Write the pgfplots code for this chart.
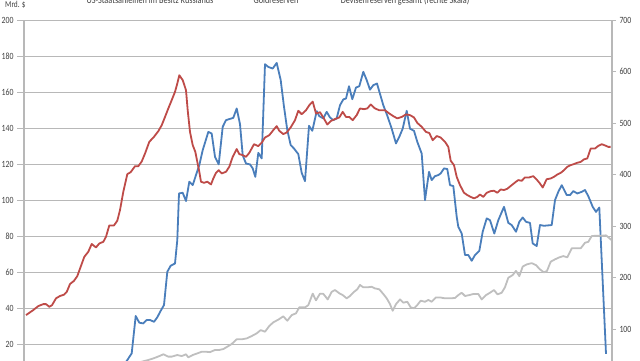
\documentclass[border=0pt]{standalone}
\usepackage{fontspec}
\setmainfont{Carlito}
\newfontfamily\chartfont[FakeStretch=0.82]{Carlito}
\usepackage{pgfplots}
\pgfplotsset{compat=1.18}
\definecolor{cblue}{HTML}{4A7EBB}
\definecolor{cred}{HTML}{BE4B48}
\definecolor{cgray}{HTML}{BFBFBF}
\definecolor{cgrid}{HTML}{B8B8B8}
\definecolor{ctext}{HTML}{404040}
\begin{document}
\begin{tikzpicture}[x=1pt,y=1pt]
\begin{scope}
\clip (0,0) rectangle (640,360);
\begin{axis}[at={(24pt,-21pt)}, anchor=south west, scale only axis,
  width=588pt, height=361pt,
  xmin=24, xmax=612, ymin=0, ymax=200,
  axis x line=none, axis y line*=left,
  ytick={20,40,...,200}, ymajorgrids,
  grid style={cgrid, line width=0.9pt},
  axis line style={cgrid, line width=1.2pt},
  tick style={cgrid, line width=0.9pt},
  tick align=outside, major tick length=7pt,
  yticklabel style={font=\chartfont\fontsize{9.5}{11}\selectfont, text=ctext},
  /pgf/number format/assume math mode=true]
% US-Staatsanleihen
\addplot[cblue, line width=1.8pt, line join=round, mark=none] coordinates {
(26,4)(60,5)(100,7)(124,9)(127.3,11.6)(131.7,15.3)(135.7,36)(139.3,32.3)(143.3,31.9)(146.7,33.8)(150,33.8)(154,32.8)(157.3,35.3)(160.7,38.9)(164,42.1)(167.3,60.5)(170.7,63.9)(175,65.1)(177.3,78.1)(179,103.9)(182.7,104.3)(186,99.7)(189.3,110.4)(192.7,108.5)(196,114.1)(199.3,119.6)(202.7,127.9)(206,133.8)(208.3,138)(211.7,137.1)(215,124.2)(218.7,120)(222.7,140.8)(226,144.5)(229.3,145.1)(233.3,145.8)(236.7,151)(240,142.3)(242.7,125.1)(246,120.5)(250,120)(252.7,117.8)(255.3,113.1)(258.3,126.4)(261.7,123.3)(265,175.5)(268.3,174)(272.7,173.1)(276.7,176.2)(280.7,166.7)(284,151.9)(287.3,139)(290.7,130.7)(294,128.8)(298.3,125.7)(301.7,115.3)(305,110.7)(309,141.4)(312.3,138.6)(316.7,149.5)(319.3,146.7)(323.3,145.5)(326.7,149.1)(330,146)(333.3,144.5)(336.7,145.5)(340,152.8)(343.3,156)(346,156.5)(349,163.3)(352.3,156.1)(356,162.6)(359.3,163.3)(363.3,171.3)(366.7,166.7)(370,161.4)(373.3,163.9)(377,164.8)(379.5,160)(383.3,152.8)(387.3,147)(391.7,139.8)(396,131.6)(399.3,135.3)(402.7,139.8)(406.7,149.7)(410,139.8)(414,138.6)(417.3,132.5)(421.7,126)(425,100.2)(429,115.9)(431.7,111.3)(435,113.5)(438.3,114.1)(440.7,115)(444,117.8)(447.3,117.4)(450,108.5)(453.3,108)(456.7,91)(458.3,85.4)(461.7,81.7)(465,69.8)(468.3,69.8)(471.7,66.6)(475,69.8)(479.3,72.1)(482.7,82.7)(486.7,90.1)(490,89.1)(494.3,81.7)(498.3,89.1)(504,96.5)(508.3,87.6)(511.7,86.4)(516,82.7)(519.3,88.2)(522.7,90.6)(526,88.2)(530,87.6)(532.7,76.2)(536.7,74.8)(540,86.4)(544,86)(551.7,86.4)(555,100.2)(558.3,104.8)(561.7,108.5)(566.7,103)(570,103)(573.3,105.2)(577.3,103.9)(581.7,104.8)(585,105.8)(588.3,102.4)(592.7,96.5)(596,93.7)(599.3,96.1)(606,15)
};
% Goldreserven
\addplot[cgray, line width=1.8pt, line join=round, mark=none] coordinates {
(26,4)(60,5)(100,7)(130,9)(148,11.6)(153.3,12.5)(159.3,13.8)(163.3,14.8)(168.3,13.5)(171.7,13.5)(177.3,14.4)(181.7,13.8)(186,14.8)(188.3,13.1)(192.7,14.4)(197.3,15.3)(201.7,16.2)(206,16.2)(210,16)(215,17.2)(219.3,17.2)(223.3,17.7)(227.3,19)(231.7,20.5)(236.7,23.1)(241.7,23.1)(246.7,23.6)(251.7,24.9)(256.7,26.4)(260.7,28.2)(265,27.3)(269.3,30.5)(273.3,32.5)(278.3,34)(283.3,35.8)(287.3,33.4)(291.7,36.5)(296,37.5)(299.3,40.8)(305,40.8)(308.3,42)(312.7,48.4)(316,44.7)(320,48.4)(323.3,48.3)(327.7,45.2)(331.7,49.4)(335,50.4)(339.3,48.6)(342.7,47.6)(346.7,45.8)(350,47.1)(354,49.4)(357.3,50.8)(360,53.2)(363.3,51.9)(367.3,51.9)(371.7,52.2)(375,51.3)(379.3,50.8)(383.3,48.2)(386.7,45.8)(390,42.6)(392.7,38.9)(396,42.6)(400,45.2)(403.3,43.4)(407.3,43.9)(410.7,40.8)(414,40.3)(417.3,42.1)(420.7,44.5)(425,43.9)(428.3,44.9)(431.7,43.9)(436,46.3)(440,46.3)(445,45.8)(450,45.8)(455,46)(458.3,47.6)(461.7,48.9)(465,47.1)(469.3,47.6)(473.3,48.2)(478.3,48.2)(481.7,45.2)(486,47.6)(490,48.9)(494,50.4)(497.5,48)(501.7,48.9)(505,52)(508.3,57.2)(512.7,58.7)(516,61)(519.3,58.1)(522.7,63.4)(526.7,64.6)(531.7,65.3)(536,64.2)(540,61.8)(544,60.2)(547,61)(550.7,66.1)(555,67.4)(559.3,68.5)(563.3,69.2)(567.3,68.5)(571.7,73.5)(576.7,73.5)(580.7,73.5)(585,76.6)(588.3,77.1)(591.7,80.3)(596.7,80.5)(601.7,80.5)(606,80.7)(608.3,79.6)(611.5,78.1)
};
\end{axis}
\begin{axis}[at={(24pt,-21pt)}, anchor=south west, scale only axis,
  width=588pt, height=361pt,
  xmin=24, xmax=612, ymin=0, ymax=700,
  axis x line=none, axis y line*=right,
  ytick={100,200,...,700},
  axis line style={cgrid, line width=1.2pt},
  tick style={cgrid, line width=0.9pt},
  tick align=outside, major tick length=4pt,
  yticklabel style={font=\chartfont\fontsize{9.5}{11}\selectfont, text=ctext},
  /pgf/number format/assume math mode=true]
% Devisenreserven gesamt (rechte Skala)
\addplot[cred, line width=1.8pt, line join=round, mark=none] coordinates {
(26,127.8)(33.3,137.6)(38.3,145.3)(43.3,149.1)(46,149.1)(49.3,143.9)(52,147)(56,160.3)(60,164.9)(64,167.3)(66.7,172.6)(70,188)(74,194.3)(77.3,203.4)(80.7,221.6)(84.3,240.8)(88.3,250.6)(91.7,265.7)(96,259)(99.3,266.7)(103.3,269.9)(106,279.7)(109.3,301.7)(114,301.7)(117.3,310.8)(120,331.5)(123.3,366.8)(127.3,401.1)(130.7,405)(135,416.5)(138.3,416.5)(141.7,425.6)(145,441)(149.3,463.8)(154,473.6)(158.3,484.4)(161.7,496)(165,512)(168.3,528.5)(171.7,544.6)(175,560.7)(177.3,576.8)(179.3,592.9)(182.7,583.5)(186,563.9)(187.7,525)(190,483)(192.7,457.5)(195.3,444.5)(197.3,424.9)(199.3,405.7)(201,386.4)(204,384.3)(207.3,386.4)(211,381.2)(213.3,392.7)(216,403.6)(218.7,408.8)(221.7,402.5)(226,405.7)(229.3,415.5)(232.7,434.7)(236.7,449.8)(239.3,440)(242.7,437.9)(246,434.7)(249.3,442.4)(254,459.2)(258.3,455.4)(261.7,462)(265,472.2)(269.3,476.7)(273.3,486.5)(276.7,494.2)(279.3,485.1)(283.3,478.8)(286.7,482)(290.7,491.8)(295,505.8)(298.3,524)(301.7,517.3)(306,525)(309.3,534.8)(312.7,541.8)(316,518.7)(320,521.2)(323.3,511)(327.3,497.4)(330.7,504)(335,507.9)(339.3,511)(342.7,521.9)(346,512)(349.3,512)(352.7,505.8)(356.7,515.6)(360,528.5)(364,527.1)(367.3,528.5)(370.7,536.2)(375,528.5)(379.3,525)(385,525)(389.3,518.7)(393.3,513.5)(397.3,509.3)(401.7,512)(406,517)(410,515.6)(414,511)(417.3,500.5)(421.7,492.8)(426,483)(429.3,480.9)(432.7,466.9)(436.7,475)(440.7,472.2)(445,463.8)(448.3,454)(450.7,427)(454,418.6)(456.7,395.9)(460,379.8)(464,365)(467.3,360.5)(470.7,357)(474,354.2)(477.3,357)(480,361.6)(483.3,357)(486.7,365)(490.7,368.2)(494,368.9)(497.3,365)(500.7,371.4)(504,370.3)(507.3,372.8)(511.7,379.8)(516,386.4)(518.3,389.6)(521.7,388.2)(525,394.8)(529.3,394.8)(533.3,397.3)(536.7,390.6)(540,382.9)(542.7,375.2)(546.7,391.3)(550.7,392.7)(554,395.9)(557.3,400.4)(560.7,403.6)(564,408.8)(567.3,415.5)(570.7,418.6)(574,420.7)(577.3,423.2)(580.7,424.9)(584,429.8)(587.3,431.6)(590.7,450.8)(595,450.8)(598.3,456)(601.7,459.2)(605,456.8)(608.3,454)(610.5,454)
};
\end{axis}
\begin{scope}[font=\chartfont\fontsize{10}{12}\selectfont, text=ctext]
\node[anchor=base west, inner sep=0pt, font=\chartfont\fontsize{9}{11}\selectfont] at (5,353) {Mrd. \$};
\node[anchor=base, inner sep=0pt] at (150,356.5) {US-Staatsanleihen im Besitz Russlands};
\node[anchor=base, inner sep=0pt] at (276,356.5) {Goldreserven};
\node[anchor=base, inner sep=0pt] at (405,356.5) {Devisenreserven gesamt (rechte Skala)};
\end{scope}
\end{scope}
\pgfresetboundingbox
\useasboundingbox (0,0) rectangle (640,360);
\end{tikzpicture}
\end{document}
